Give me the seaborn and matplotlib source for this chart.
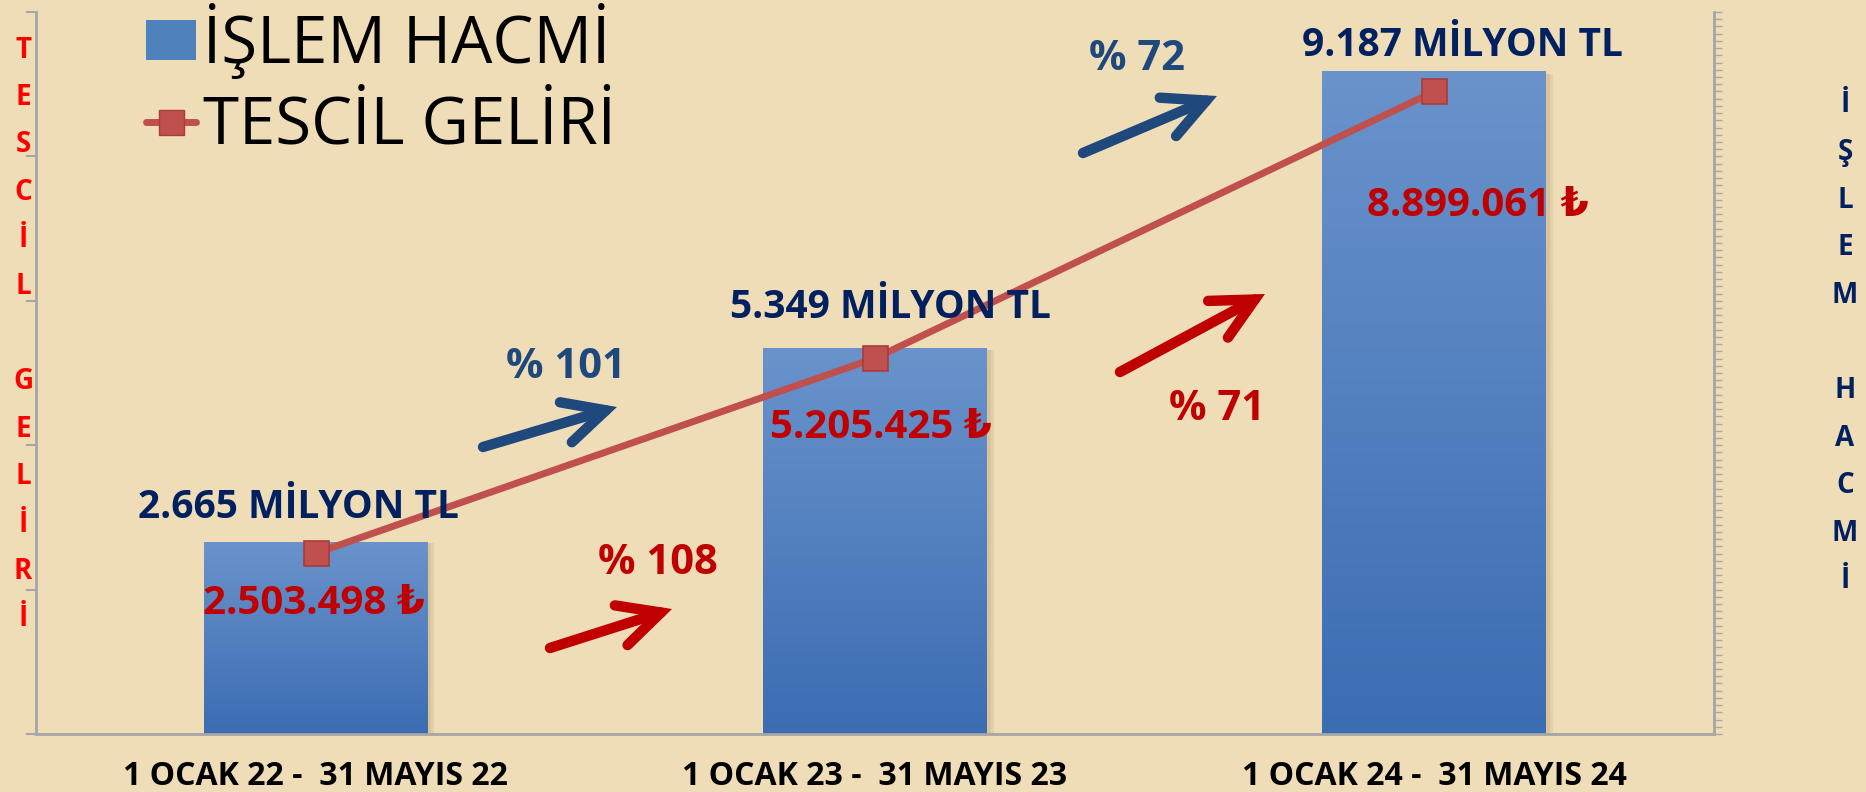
import numpy as np
import matplotlib
matplotlib.use("Agg")
import matplotlib.pyplot as plt
import seaborn as sns
from matplotlib.patches import Patch, FancyArrowPatch, Rectangle
from matplotlib.lines import Line2D
from matplotlib.colors import LinearSegmentedColormap

# ── Data ────────────────────────────────────
periods = ["1 OCAK 22 -  31 MAYIS 22", "1 OCAK 23 -  31 MAYIS 23", "1 OCAK 24 -  31 MAYIS 24"]
islem_hacmi = [2665, 5349, 9187]               # milyon TL
tescil_geliri = [2503498, 5205425, 8899061]    # TL


def tr_num(v):
    return f"{v:,}".replace(",", ".")


hacim_labels = [f"{tr_num(v)} MİLYON TL" for v in islem_hacmi]
gelir_labels = [f"{tr_num(v)} ₺" for v in tescil_geliri]
hacim_growth = [f"% {round((b / a - 1) * 100)}" for a, b in zip(islem_hacmi, islem_hacmi[1:])]
gelir_growth = [f"% {round((b / a - 1) * 100)}" for a, b in zip(tescil_geliri, tescil_geliri[1:])]

# ── Style ───────────────────────────────────
W, H = 1866, 792
BG = "#EFDDB7"
NAVY = "#002060"
STEEL = "#1F497D"
DARKRED = "#C00000"
LINE_RED = "#C0504D"
AXIS_GRAY = "#A6A6A6"
FONT = ["Open Sans", "DejaVu Sans"]

sns.set_style("white")
plt.rcParams["font.family"] = FONT


def px(x, y):
    """pixel position (from top-left) -> figure fraction"""
    return x / W, 1 - y / H


fig = plt.figure(figsize=(W / 100, H / 100), dpi=100, facecolor=BG)
ax = fig.add_axes([36 / W, 1 - 734 / H, 1678 / W, 722 / H])
ax2 = ax.twinx()
ax.set_zorder(ax2.get_zorder() + 1)
ax.patch.set_visible(False)
ax2.patch.set_visible(False)

# ── Bars (İŞLEM HACMİ, right axis) ──────────
sns.barplot(x=periods, y=islem_hacmi, ax=ax2, width=0.4, color="#4F81BD",
            saturation=1, linewidth=0)
grad = LinearSegmentedColormap.from_list("bar", ["#3B6DB3", "#6A93CB"])
for bar in list(ax2.patches):
    x0, y0 = bar.get_xy()
    w, h = bar.get_width(), bar.get_height()
    # soft shadow on the right side
    for k, alpha in [(0.012, 0.10), (0.007, 0.10)]:
        ax2.add_patch(Rectangle((x0 + k, y0), w, h * 0.995, facecolor="#7A5A2A",
                                alpha=alpha, edgecolor="none", zorder=bar.get_zorder() - 0.5))
    img = ax2.imshow(np.linspace(0, 1, 256).reshape(-1, 1), cmap=grad, origin="lower",
                     extent=[x0, x0 + w, y0, y0 + h],
                     aspect="auto", zorder=bar.get_zorder())
    img.set_clip_path(bar)

# ── Line (TESCİL GELİRİ, left axis) ─────────
sns.lineplot(x=np.arange(len(periods)), y=tescil_geliri, ax=ax, color=LINE_RED,
             linewidth=5, marker="s", markersize=18, markerfacecolor=LINE_RED,
             markeredgecolor="#A83C39", markeredgewidth=1.2)

ax.set_xlim(-0.5, len(periods) - 0.5)
ax.set_ylim(0, 10_000_000)
ax2.set_ylim(0, 10_000)

ax.set_yticks(np.arange(0, 10_000_001, 2_000_000))
ax.set_yticklabels([])
ax2.set_yticks(np.arange(0, 10_001, 100))
ax2.set_yticklabels([])
ax.set_xticks(np.arange(len(periods)))
ax.set_xticklabels(periods, fontsize=23, fontweight="bold", color="black")
ax.set_xticks(np.arange(len(periods) + 1) - 0.5, minor=True)
ax.tick_params(axis="x", which="major", length=0, pad=19)
ax.tick_params(axis="x", which="minor", length=9, width=1.5, color=AXIS_GRAY, direction="out")
ax.tick_params(axis="y", length=7, width=1.5, color=AXIS_GRAY, direction="out")
ax2.tick_params(axis="y", length=6, width=1, color=AXIS_GRAY, direction="out")
ax.set_xlabel("")
ax.set_ylabel("")
ax2.set_xlabel("")
ax2.set_ylabel("")

for a in (ax, ax2):
    for s in a.spines.values():
        s.set_color(AXIS_GRAY)
        s.set_linewidth(2)
    a.spines["top"].set_visible(False)
ax.spines["right"].set_visible(False)
ax2.spines["left"].set_visible(False)
ax2.spines["bottom"].set_visible(False)

# ── Value labels ────────────────────────────
hacim_pos = [(299, 507), (890, 307), (1463, 45)]
gelir_pos = [(314, 604), (881, 427), (1478, 206)]
for txt, (x, y) in zip(hacim_labels, hacim_pos):
    fig.text(*px(x, y), txt, ha="center", va="center", fontsize=28,
             fontweight="bold", color=NAVY)
for txt, (x, y) in zip(gelir_labels, gelir_pos):
    fig.text(*px(x, y), txt, ha="center", va="center", fontsize=29,
             fontweight="bold", color=DARKRED, family=FONT)

# ── Growth labels and arrows ────────────────
hacim_growth_pos = [(566, 367), (1137, 59)]
gelir_growth_pos = [(658, 563), (1217, 410)]
hacim_arrows = [((483, 447), (617, 407)), ((1083, 153), (1217, 96))]
gelir_arrows = [((550, 648), (672, 609)), ((1120, 372), (1265, 294))]

for labels, pos, arrows, color in [(hacim_growth, hacim_growth_pos, hacim_arrows, STEEL),
                                   (gelir_growth, gelir_growth_pos, gelir_arrows, DARKRED)]:
    for txt, (x, y) in zip(labels, pos):
        fig.text(*px(x, y), txt, ha="center", va="center", fontsize=30,
                 fontweight="bold", color=color)
    for a, b in arrows:
        arr = FancyArrowPatch(px(*a), px(*b), transform=fig.transFigure,
                              arrowstyle="->,head_length=30,head_width=15",
                              mutation_scale=1, lw=7.5, color=color,
                              capstyle="round", joinstyle="miter",
                              shrinkA=0, shrinkB=0)
        fig.add_artist(arr)

# ── Vertical axis titles (stacked letters) ──
for i, ch in enumerate("TESCİL GELİRİ"):
    fig.text(*px(23, 50 + i * 47.4), ch, ha="center", va="center", fontsize=20,
             fontweight="bold", color="#FF0000")
for i, ch in enumerate("İŞLEM HACMİ"):
    fig.text(*px(1845, 105 + i * 47.6), ch, ha="center", va="center", fontsize=20,
             fontweight="bold", color=NAVY)

# ── Legend ──────────────────────────────────
handles = [Patch(facecolor="#4F81BD", edgecolor="none"),
           Line2D([], [], color=LINE_RED, lw=5, marker="s", markersize=18,
                  markerfacecolor=LINE_RED, markeredgecolor="#A83C39")]
ax.legend(handles, ["İŞLEM HACMİ", "TESCİL GELİRİ"], loc="upper left",
          bbox_to_anchor=px(146, 3), bbox_transform=fig.transFigure,
          fontsize=47, frameon=False, handlelength=0.77, handleheight=0.55,
          handletextpad=0.1, labelspacing=0.22, borderpad=0, borderaxespad=0,
          labelcolor="black")

fig.savefig("out.png", dpi=100, facecolor=BG)
